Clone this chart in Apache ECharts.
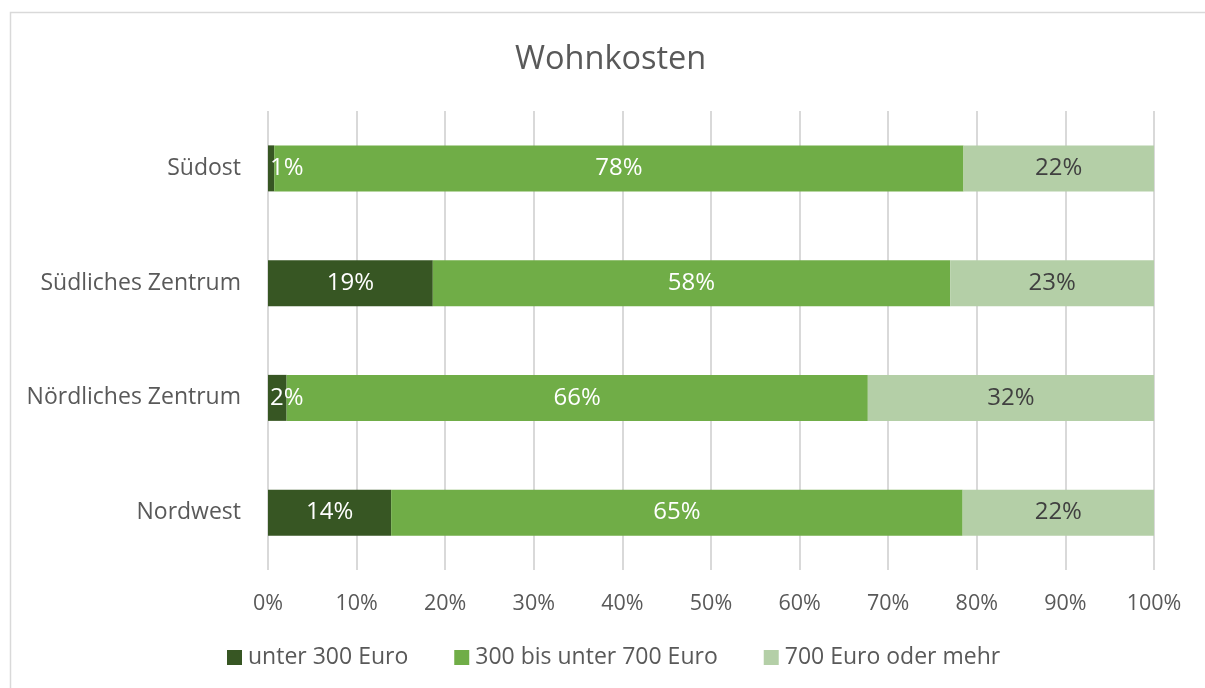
<!DOCTYPE html>
<html>
<head>
<meta charset="utf-8">
<script src="https://cdn.jsdelivr.net/npm/echarts@6/dist/echarts.min.js"></script>
<style>html,body{margin:0;padding:0;background:#fff}#c{width:1205px;height:688px}</style>
</head>
<body>
<div id="c"></div>
<script>
const categories = ['Nordwest', 'Nördliches Zentrum', 'Südliches Zentrum', 'Südost'];
const seriesNames = ['unter 300 Euro', '300 bis unter 700 Euro', '700 Euro oder mehr'];
const under300 = [13.9, 2.1, 18.6, 0.7];
const from300to700 = [64.5, 65.6, 58.4, 77.8];
const over700 = [21.6, 32.3, 23.0, 21.5];
const xTicks = [0, 10, 20, 30, 40, 50, 60, 70, 80, 90, 100];

const colors = ['#375623', '#70AD47', '#B4CFA7'];
const labelColors = ['#ffffff', '#ffffff', '#404040'];
const FONT = '"Open Sans", sans-serif';

const chart = echarts.init(document.getElementById('c'), null, {renderer: 'canvas'});

function mkSeries(name, values, i) {
  return {
    name: name,
    type: 'bar',
    stack: 'total',
    barWidth: 46,
    itemStyle: {color: colors[i]},
    label: {
      show: true,
      position: 'inside',
      color: labelColors[i],
      fontFamily: FONT,
      fontSize: 24,
      formatter: p => Math.round(p.value) + '%'
    },
    data: values.map(v => (v < 5 ? {value: v, label: {position: 'insideLeft', distance: 2}} : v))
  };
}

chart.setOption({
  animation: false,
  textStyle: {fontFamily: FONT},
  graphic: [{
    type: 'rect',
    shape: {x: 10.5, y: 12.5, width: 1210, height: 700},
    style: {fill: 'none', stroke: '#d9d9d9', lineWidth: 1.5},
    silent: true
  }],
  title: {
    text: 'Wohnkosten',
    left: 510,
    top: 38,
    textStyle: {fontFamily: FONT, fontSize: 32.5, fontWeight: 'normal', color: '#595959'}
  },
  legend: {
    bottom: 14,
    left: 222,
    icon: 'rect',
    itemWidth: 15,
    itemHeight: 15,
    itemGap: 46,
    textStyle: {fontFamily: FONT, fontSize: 23, color: '#595959', padding: [0, 0, 0, 1]},
    data: seriesNames
  },
  grid: {left: 268, right: 51, top: 111, bottom: 118, containLabel: false},
  xAxis: {
    type: 'value',
    min: xTicks[0],
    max: xTicks[xTicks.length - 1],
    interval: xTicks[1] - xTicks[0],
    axisLine: {show: false},
    axisTick: {show: false},
    axisLabel: {formatter: '{value}%', fontFamily: FONT, fontSize: 21.5, color: '#595959', margin: 23},
    splitLine: {lineStyle: {color: '#d9d9d9', width: 2}}
  },
  yAxis: {
    type: 'category',
    data: categories,
    axisLine: {show: false},
    axisTick: {show: false},
    axisLabel: {fontFamily: FONT, fontSize: 23, color: '#595959', margin: 27}
  },
  series: [
    mkSeries(seriesNames[0], under300, 0),
    mkSeries(seriesNames[1], from300to700, 1),
    mkSeries(seriesNames[2], over700, 2)
  ]
});
</script>
</body>
</html>
